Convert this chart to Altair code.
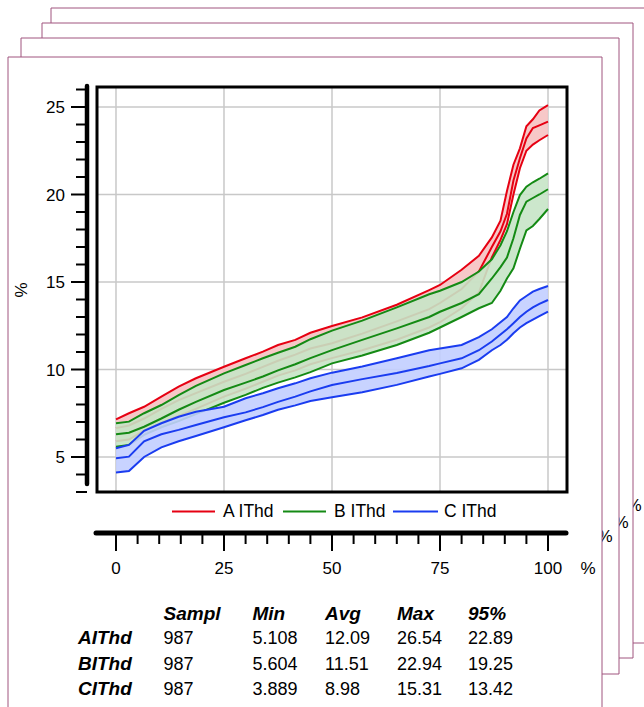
import altair as alt
import pandas as pd

# ---------------- data ----------------
X_PCT = [0, 3, 6.5, 10.5, 14.5, 18.5, 25, 30, 34, 37.5, 41.5, 45, 50, 57, 65,
         72.5, 75, 80, 84, 87, 89, 90.5, 92, 93.5, 95, 96.5, 98, 100]

A_HI = [7.15, 7.5, 7.87, 8.45, 9.02, 9.5, 10.16, 10.64, 11.02, 11.4, 11.69, 12.1, 12.49, 12.98, 13.7,
        14.54, 14.83, 15.7, 16.5, 17.55, 18.5, 20.2, 21.7, 22.64, 23.9, 24.3, 24.8, 25.11]
A_MID = [6.65, 6.8, 7.2, 7.75, 8.25, 8.65, 9.3, 9.75, 10.15, 10.5, 10.85, 11.2, 11.5, 12.05, 12.75,
         13.45, 13.8, 14.6, 15.6, 17.0, 17.9, 18.9, 20.8, 22.07, 23.2, 23.8, 23.95, 24.16]
A_LO = [5.9, 6.0, 6.5, 6.95, 7.35, 7.75, 8.45, 8.9, 9.3, 9.65, 9.95, 10.3, 10.65, 11.1, 11.7,
        12.4, 12.7, 13.5, 14.4, 16.4, 17.4, 18.3, 20.0, 21.5, 22.5, 22.85, 23.1, 23.4]

B_HI = [6.93, 7.02, 7.5, 7.97, 8.54, 9.06, 9.78, 10.26, 10.64, 10.96, 11.3, 11.73, 12.22, 12.79, 13.55,
        14.3, 14.5, 15.0, 15.6, 16.3, 17.1, 17.9, 19.0, 19.97, 20.45, 20.7, 20.9, 21.21]
B_MID = [6.3, 6.39, 6.73, 7.2, 7.7, 8.15, 8.83, 9.25, 9.6, 9.95, 10.3, 10.65, 11.11, 11.69, 12.35,
         13.0, 13.3, 13.8, 14.3, 15.2, 15.85, 16.4, 17.5, 18.83, 19.59, 19.8, 20.0, 20.3]
B_LO = [5.59, 5.69, 6.26, 6.7, 7.05, 7.45, 8.1, 8.55, 8.95, 9.25, 9.55, 9.85, 10.35, 10.8, 11.4,
        12.1, 12.4, 13.0, 13.5, 13.8, 14.5, 15.2, 15.78, 16.9, 17.95, 18.2, 18.6, 19.17]

C_HI = [5.5, 5.69, 6.5, 6.93, 7.3, 7.59, 7.87, 8.36, 8.64, 8.93, 9.21, 9.5, 9.82, 10.17, 10.64,
        11.1, 11.2, 11.4, 11.85, 12.3, 12.7, 13.0, 13.5, 13.95, 14.2, 14.45, 14.6, 14.77]
C_MID = [4.93, 5.02, 5.9, 6.3, 6.55, 6.83, 7.27, 7.55, 7.85, 8.15, 8.45, 8.75, 9.11, 9.45, 9.8,
         10.2, 10.35, 10.64, 11.1, 11.6, 12.0, 12.3, 12.64, 13.0, 13.3, 13.55, 13.75, 13.97]
C_LO = [4.11, 4.2, 5.0, 5.55, 5.9, 6.2, 6.7, 7.1, 7.4, 7.7, 7.95, 8.2, 8.41, 8.7, 9.12,
        9.6, 9.75, 10.07, 10.55, 11.1, 11.4, 11.7, 12.07, 12.4, 12.65, 12.85, 13.05, 13.31]

SERIES = ["A IThd", "B IThd", "C IThd"]
BANDS = [(A_LO, A_MID, A_HI), (B_LO, B_MID, B_HI), (C_LO, C_MID, C_HI)]

X_TICKS = [0, 25, 50, 75, 100]
X_TICK_LABELS = ["0", "25", "50", "75", "100"]
X_MINOR = [5, 10, 15, 20, 30, 35, 40, 45, 55, 60, 65, 70, 80, 85, 90, 95]
Y_TICKS = [5, 10, 15, 20, 25]
Y_TICK_LABELS = ["5", "10", "15", "20", "25"]
Y_MINOR = [3, 4, 6, 7, 8, 9, 11, 12, 13, 14, 16, 17, 18, 19, 21, 22, 23, 24, 26]

STAT_COLS = ["Sampl", "Min", "Avg", "Max", "95%"]
STAT_ROWS = ["AIThd", "BIThd", "CIThd"]
STAT_VALUES = [["987", "5.108", "12.09", "26.54", "22.89"],
               ["987", "5.604", "11.51", "22.94", "19.25"],
               ["987", "3.889", "8.98", "15.31", "13.42"]]

# ---------------- styling / layout ----------------
FONT = "Liberation Sans"
LINE_COLORS = ["#e60012", "#148a14", "#1a3cf0"]
FILL_COLORS = ["#f6c2c2", "#c6e4c6", "#c2ceff"]
PAGE_STROKE = "#a0557f"
PLOT_W, PLOT_H = 470, 405
X_AXIS_Y = PLOT_H + 41      # x axis line sits below the frame
Y_AXIS_X = -10              # y axis line sits left of the frame

xs = alt.Scale(domain=[-4.398, 104.398], nice=False, zero=False)
ys = alt.Scale(domain=[3.0, 26.143], nice=False, zero=False)

one = pd.DataFrame({"k": [0]})


def rect(x1, y1, x2, y2, **kw):
    return alt.Chart(one).mark_rect(**kw).encode(
        x=alt.value(x1), x2=alt.value(x2), y=alt.value(y1), y2=alt.value(y2))


def label(text, x, y, size=17, **kw):
    return alt.Chart(one).mark_text(text=text, font=FONT, fontSize=size,
                                    color="black", **kw).encode(
        x=alt.value(x), y=alt.value(y))


def xq(field="v"):
    return alt.X(f"{field}:Q", scale=xs, axis=None)


def yq(field="v"):
    return alt.Y(f"{field}:Q", scale=ys, axis=None)


layers = []

# stacked pages behind the chart (back to front)
PAGE_BOXES = [(-46, -79, 563, 556), (-55, -64, 536, 571), (-76, -49, 522, 587), (-89, -30, 505, 633)]
BACK_MARKS = [(537, 419), (524, 436), (508, 450)]
for i, (x1, y1, x2, y2) in enumerate(PAGE_BOXES):
    layers.append(rect(x1, y1, x2, y2, fill="white", stroke=PAGE_STROKE, strokeWidth=1))
    if i < len(BACK_MARKS):
        bx, by = BACK_MARKS[i]
        layers.append(label("%", bx, by, baseline="middle", align="center"))

# grid
layers.append(alt.Chart(pd.DataFrame({"v": X_TICKS})).mark_rule(color="#c8c8c8", strokeWidth=1.5).encode(
    x=xq(), y=alt.value(0), y2=alt.value(PLOT_H)))
layers.append(alt.Chart(pd.DataFrame({"v": Y_TICKS})).mark_rule(color="#c8c8c8", strokeWidth=1.5).encode(
    y=yq(), x=alt.value(0), x2=alt.value(PLOT_W)))

# series bands and lines
for name, (lo, mid, hi), lc, fc in zip(SERIES, BANDS, LINE_COLORS, FILL_COLORS):
    df = pd.DataFrame({"x": X_PCT, "lo": lo, "mid": mid, "hi": hi})
    base = alt.Chart(df)
    layers.append(base.mark_area(fill=fc, fillOpacity=0.9).encode(
        x=xq("x"), y=yq("lo"), y2="hi:Q"))
    layers.append(base.transform_fold(["hi", "mid", "lo"], as_=["k", "v"]).mark_line(
        color=lc, strokeWidth=2).encode(x=xq("x"), y=yq("v"), detail="k:N"))

# frame
layers.append(rect(0, 0, PLOT_W, PLOT_H, fillOpacity=0, stroke="black", strokeWidth=3))

# ---- y axis (left, detached) ----
layers.append(alt.Chart(one).mark_rule(color="black", strokeWidth=4.5, strokeCap="round").encode(
    x=alt.value(Y_AXIS_X), y=alt.value(-1), y2=alt.value(PLOT_H - 8)))
layers.append(alt.Chart(pd.DataFrame({"v": Y_TICKS})).mark_rule(color="black", strokeWidth=2).encode(
    y=yq(), x=alt.value(Y_AXIS_X - 16), x2=alt.value(Y_AXIS_X)))
layers.append(alt.Chart(pd.DataFrame({"v": Y_MINOR})).mark_rule(color="black", strokeWidth=2).encode(
    y=yq(), x=alt.value(Y_AXIS_X - 11), x2=alt.value(Y_AXIS_X)))
layers.append(alt.Chart(pd.DataFrame({"v": Y_TICKS, "t": Y_TICK_LABELS})).mark_text(
    font=FONT, fontSize=17, color="black", align="right", baseline="alphabetic", dy=6).encode(
    y=yq(), x=alt.value(Y_AXIS_X - 22), text="t:N"))

# ---- x axis (bottom, detached) ----
layers.append(alt.Chart(one).mark_rule(color="black", strokeWidth=5, strokeCap="round").encode(
    y=alt.value(X_AXIS_Y), x=alt.value(-1), x2=alt.value(PLOT_W - 1)))
layers.append(alt.Chart(pd.DataFrame({"v": X_TICKS})).mark_rule(color="black", strokeWidth=2).encode(
    x=xq(), y=alt.value(X_AXIS_Y), y2=alt.value(X_AXIS_Y + 18)))
layers.append(alt.Chart(pd.DataFrame({"v": X_MINOR})).mark_rule(color="black", strokeWidth=2).encode(
    x=xq(), y=alt.value(X_AXIS_Y), y2=alt.value(X_AXIS_Y + 11)))
layers.append(alt.Chart(pd.DataFrame({"v": X_TICKS, "t": X_TICK_LABELS})).mark_text(
    font=FONT, fontSize=17, color="black", align="center", baseline="alphabetic").encode(
    x=xq(), y=alt.value(X_AXIS_Y + 41), text="t:N"))

# axis titles / units
layers.append(label("%", -75, 203, angle=270, align="center", baseline="middle"))
layers.append(label("%", 491, X_AXIS_Y + 41, align="center", baseline="alphabetic"))

# legend
LEG_LINES = [(75, 118, 126), (186, 229, 237), (296, 341, 347)]
for name, lc, (l1, l2, tx) in zip(SERIES, LINE_COLORS, LEG_LINES):
    layers.append(alt.Chart(one).mark_rule(color=lc, strokeWidth=2).encode(
        x=alt.value(l1), x2=alt.value(l2), y=alt.value(424.5)))
    layers.append(label(name, tx, 430, size=17.5, align="left", baseline="alphabetic"))

# stats table
COL_X = [66.5, 155.5, 228, 300, 371]
ROW_Y = [557, 583, 608]
for c, cx in zip(STAT_COLS, COL_X):
    layers.append(label(c, cx, 533, size=19, align="left", baseline="alphabetic",
                        fontWeight="bold", fontStyle="italic"))
for r, ry, vals in zip(STAT_ROWS, ROW_Y, STAT_VALUES):
    layers.append(label(r, -19, ry, size=19, align="left", baseline="alphabetic",
                        fontWeight="bold", fontStyle="italic"))
    for v, cx in zip(vals, COL_X):
        layers.append(label(v, cx, ry, size=18, align="left", baseline="alphabetic"))

chart = alt.layer(*layers).properties(
    width=PLOT_W, height=PLOT_H,
    padding={"left": 97, "top": 87, "right": 77, "bottom": 215},
    autosize=alt.AutoSizeParams(type="none"),
).configure(background="white").configure_view(strokeWidth=0)

chart.save("out.html", embed_options={"renderer": "svg", "actions": False})
